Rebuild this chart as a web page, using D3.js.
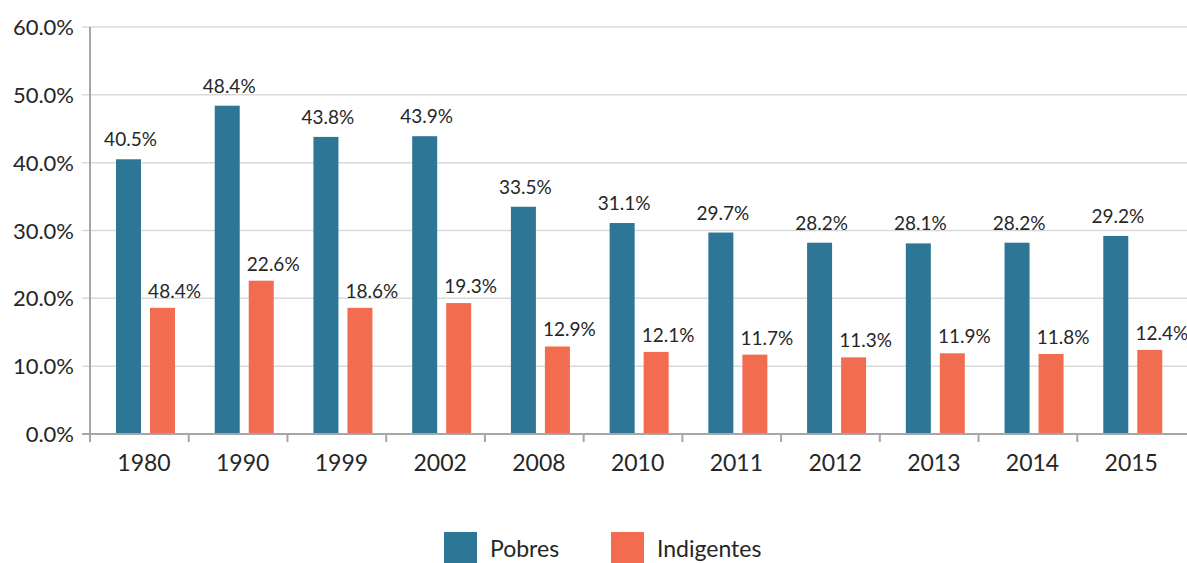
<!DOCTYPE html>
<html>
<head>
<meta charset="utf-8">
<script src="https://cdn.jsdelivr.net/npm/d3@7"></script>
<style>
  body { margin: 0; background: #fff; }
  text { font-family: Lato, "Open Sans", sans-serif; fill: #262626; }
</style>
</head>
<body>
<svg id="chart" width="1187" height="563"></svg>
<script>
"use strict";
// data
var years = ["1980", "1990", "1999", "2002", "2008", "2010", "2011", "2012", "2013", "2014", "2015"];
var pobres = [40.5, 48.4, 43.8, 43.9, 33.5, 31.1, 29.7, 28.2, 28.1, 28.2, 29.2];
var indigentes = [18.6, 22.6, 18.6, 19.3, 12.9, 12.1, 11.7, 11.3, 11.9, 11.8, 12.4];
// labels as printed (first indigentes label reads 48.4% in the source)
var pobresLabels = ["40.5%", "48.4%", "43.8%", "43.9%", "33.5%", "31.1%", "29.7%", "28.2%", "28.1%", "28.2%", "29.2%"];
var indigentesLabels = ["48.4%", "22.6%", "18.6%", "19.3%", "12.9%", "12.1%", "11.7%", "11.3%", "11.9%", "11.8%", "12.4%"];
var series = ["Pobres", "Indigentes"];
var colors = ["#2e7696", "#f26d4f"];
var yTicks = [0, 10, 20, 30, 40, 50, 60];

var svg = d3.select("#chart");
var plotLeft = 90, plotRight = 1176, plotTop = 27, plotBottom = 434;

var x = d3.scaleBand().domain(years).range([plotLeft, plotRight]).padding(0);
var xSub = d3.scaleBand().domain(series).range([26, 85]).paddingInner(9 / 34).paddingOuter(0);
var y = d3.scaleLinear().domain([0, 60]).range([plotBottom, plotTop]);

//gridlines with small ticks left of the axis
svg.append("g").selectAll("line").data(yTicks.slice(1)).enter().append("line")
	.attr("x1", plotLeft - 8).attr("x2", 1187)
	.attr("y1", function(d){ return y(d); })
	.attr("y2", function(d){ return y(d); })
	.style("stroke", "#d9d9d9")
	.style("stroke-width", 1.5);

//y tick labels
svg.append("g").selectAll("text").data(yTicks).enter().append("text")
	.attr("x", 74)
	.attr("y", function(d){ return y(d) + 8; })
	.attr("text-anchor", "end")
	.style("font-size", "22px")
	.text(function(d){ return d.toFixed(1) + "%"; });

//bars
var groups = svg.append("g").selectAll("g").data(years).enter().append("g")
	.attr("transform", function(d){ return "translate(" + x(d) + ",0)"; });

groups.append("rect")
	.attr("x", xSub("Pobres"))
	.attr("width", xSub.bandwidth())
	.attr("y", function(d, i){ return y(pobres[i]); })
	.attr("height", function(d, i){ return plotBottom - y(pobres[i]); })
	.style("fill", colors[0]);

groups.append("rect")
	.attr("x", xSub("Indigentes"))
	.attr("width", xSub.bandwidth())
	.attr("y", function(d, i){ return y(indigentes[i]); })
	.attr("height", function(d, i){ return plotBottom - y(indigentes[i]); })
	.style("fill", colors[1]);

//data labels
groups.append("text")
	.attr("x", xSub("Pobres") + xSub.bandwidth() / 2 + 2)
	.attr("y", function(d, i){ return y(pobres[i]) - 13; })
	.attr("text-anchor", "middle")
	.style("font-size", "19px")
	.text(function(d, i){ return pobresLabels[i]; });

groups.append("text")
	.attr("x", xSub("Indigentes") + xSub.bandwidth() / 2 + 12)
	.attr("y", function(d, i){ return y(indigentes[i]) - 10; })
	.attr("text-anchor", "middle")
	.style("font-size", "19px")
	.text(function(d, i){ return indigentesLabels[i]; });

//x axis line, ticks between categories, labels
var axisColor = "#a6a6a6";
svg.append("line")
	.attr("x1", plotLeft - 8).attr("x2", 1187)
	.attr("y1", plotBottom).attr("y2", plotBottom)
	.style("stroke", axisColor).style("stroke-width", 2);
svg.append("line")
	.attr("x1", plotLeft).attr("x2", plotLeft)
	.attr("y1", plotTop).attr("y2", plotBottom + 8)
	.style("stroke", axisColor).style("stroke-width", 2);
svg.append("g").selectAll("line").data(years.slice(1)).enter().append("line")
	.attr("x1", function(d){ return x(d); })
	.attr("x2", function(d){ return x(d); })
	.attr("y1", plotBottom).attr("y2", plotBottom + 8)
	.style("stroke", axisColor).style("stroke-width", 2);

svg.append("g").selectAll("text").data(years).enter().append("text")
	.attr("x", function(d){ return x(d) + 54; })
	.attr("y", 471)
	.attr("text-anchor", "middle")
	.style("font-size", "23px")
	.text(function(d){ return d; });

//legend
var legendX = [444, 611];
var legend = svg.append("g").selectAll("g").data(series).enter().append("g")
	.attr("transform", function(d, i){ return "translate(" + legendX[i] + ",532)"; });
legend.append("rect")
	.attr("width", 33).attr("height", 33)
	.style("fill", function(d, i){ return colors[i]; });
legend.append("text")
	.attr("x", 46).attr("y", 25)
	.style("font-size", "23px")
	.text(function(d){ return d; });
</script>
</body>
</html>
